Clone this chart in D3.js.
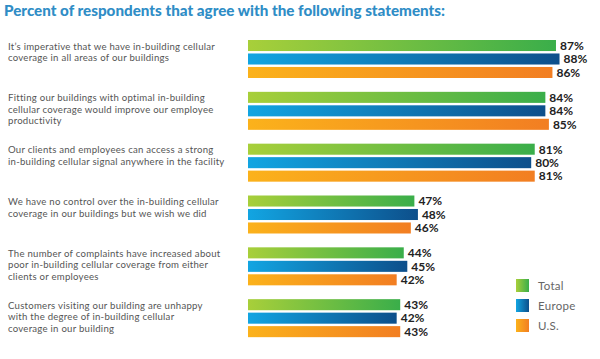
<!DOCTYPE html>
<html><head><meta charset="utf-8">
<script src="https://cdn.jsdelivr.net/npm/d3@7"></script>
<style>html,body{margin:0;padding:0;background:#fff;}</style>
</head><body>
<script>
const statements = [
  ["It’s imperative that we have in-building cellular", "coverage in all areas of our buildings"],
  ["Fitting our buildings with optimal in-building", "cellular coverage would improve our employee", "productivity"],
  ["Our clients and employees can access a strong", "in-building cellular signal anywhere in the facility"],
  ["We have no control over the in-building cellular", "coverage in our buildings but we wish we did"],
  ["The number of complaints have increased about", "poor in-building cellular coverage from either", "clients or employees"],
  ["Customers visiting our building are unhappy", "with the degree of in-building cellular", "coverage in our building"]
];
const seriesNames = ["Total", "Europe", "U.S."];
const totalVals  = [87, 84, 81, 47, 44, 43];
const europeVals = [88, 84, 80, 48, 45, 42];
const usVals     = [86, 85, 81, 46, 42, 43];
const titleText = "Percent of respondents that agree with the following statements:";

const W = 600, H = 359;
const svg = d3.select("body").append("svg").attr("width", W).attr("height", H);
const defs = svg.append("defs");
const grads = [["gT", "#a8cf3a", "#3aae4a"], ["gE", "#12a5e2", "#0d4f8b"], ["gU", "#fbb21b", "#f27e22"]];
grads.forEach(([id, c1, c2]) => {
  const g = defs.append("linearGradient").attr("id", id).attr("x1", "0").attr("x2", "1").attr("y1", "0").attr("y2", "0");
  g.append("stop").attr("offset", "0").attr("stop-color", c1);
  g.append("stop").attr("offset", "1").attr("stop-color", c2);
});

svg.append("text").attr("x", 4).attr("y", 16)
  .attr("font-family", "Lato, sans-serif").attr("font-weight", 900).attr("font-size", 15.5)
  .attr("fill", "#2f8dc6").attr("textLength", 441).attr("lengthAdjust", "spacingAndGlyphs")
  .text(titleText);

const groups = d3.range(statements.length);
const y = d3.scaleBand().domain(groups).range([40, 351]).paddingInner(0).paddingOuter(0);
const x = d3.scaleLinear().domain([0, 100]).range([248, 602]);
const sub = d3.scaleBand().domain([0, 1, 2]).range([0, 38]).paddingInner(0.18);
const vals = [totalVals, europeVals, usVals];

const g = svg.selectAll("g.grp").data(groups).enter().append("g")
  .attr("transform", d => `translate(0,${y(d)})`);

g.each(function(gi) {
  const sel = d3.select(this);
  const lines = statements[gi];
  sel.append("text").attr("font-family", "Lato, sans-serif").attr("font-weight", 400)
    .attr("font-size", 9.6).attr("fill", "#555").attr("letter-spacing", 0.25)
    .selectAll("tspan").data(lines).enter().append("tspan")
    .attr("x", 8).attr("y", (d, i) => 9.5 + i * 11.5).text(d => d);
  [0, 1, 2].forEach(si => {
    const v = vals[si][gi];
    sel.append("rect").attr("x", x(0)).attr("y", sub(si))
      .attr("width", x(v) - x(0)).attr("height", sub.bandwidth())
      .attr("fill", `url(#${grads[si][0]})`);
    sel.append("text").attr("x", x(v) + 4).attr("y", sub(si) + sub.bandwidth() / 2)
      .attr("dy", "0.36em").attr("font-family", "Lato, sans-serif").attr("font-weight", 700)
      .attr("font-size", 12).attr("fill", "#222").text(v + "%");
  });
});

const legend = svg.append("g").selectAll("g").data(seriesNames).enter().append("g")
  .attr("transform", (d, i) => `translate(516,${279 + i * 20})`);
legend.append("rect").attr("width", 13).attr("height", 13).attr("fill", (d, i) => `url(#${grads[i][0]})`);
legend.append("text").attr("x", 22).attr("y", 6.5).attr("dy", "0.36em")
  .attr("font-family", "Lato, sans-serif").attr("font-weight", 400).attr("font-size", 11.5)
  .attr("letter-spacing", 0.3).attr("fill", "#666").text(d => d);
</script>
</body></html>
